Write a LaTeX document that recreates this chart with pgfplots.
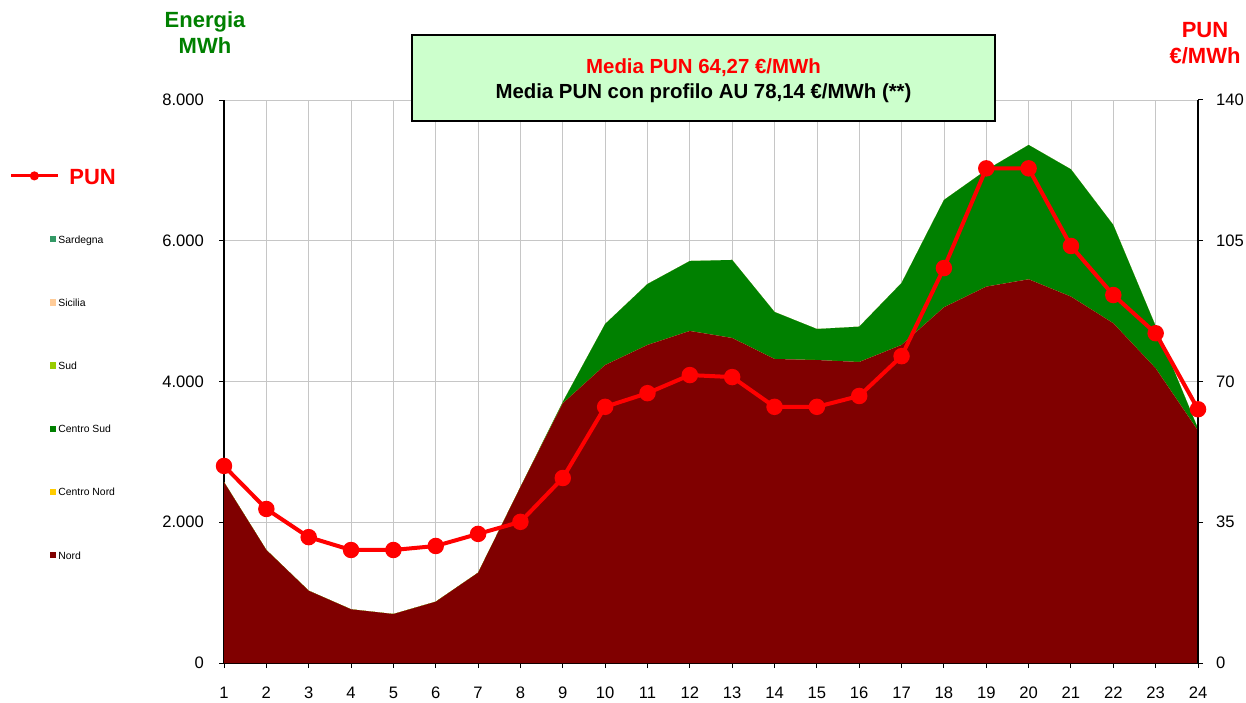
\documentclass[border=0pt]{standalone}
\usepackage{pgfplots}
\usepackage{pgfplotstable}
\pgfplotsset{compat=1.18}
\usepackage{fontspec}
\setmainfont{Liberation Sans}
\definecolor{nord}{RGB}{128,0,0}
\definecolor{cnord}{RGB}{255,204,0}
\definecolor{csud}{RGB}{0,128,0}
\definecolor{sud}{RGB}{153,204,0}
\definecolor{sicilia}{RGB}{255,204,153}
\definecolor{sardegna}{RGB}{51,153,102}
\definecolor{boxgreen}{RGB}{204,255,204}
\definecolor{pun}{RGB}{255,0,0}

\pgfplotstableread{
h nord cnord csud sud sic sar pun
1  2570 0 0    0 0 0 49.0
2  1606 0 0    0 0 0 38.3
3  1027 0 0    0 0 0 31.3
4  763  0 0    0 0 0 28.1
5  696  0 0    0 0 0 28.1
6  871  0 0    0 0 0 29.1
7  1283 0 0    0 0 0 32.1
8  2500 0 0    0 0 0 35.1
9  3690 0 20   0 0 0 46.0
10 4234 0 583  0 0 0 63.7
11 4519 0 866  0 0 0 67.1
12 4718 0 994  0 0 0 71.6
13 4618 0 1109 0 0 0 71.1
14 4320 0 668  0 0 0 63.7
15 4305 0 441  0 0 0 63.7
16 4277 0 502  0 0 0 66.4
17 4519 0 881  0 0 0 76.3
18 5054 0 1525 0 0 0 98.2
19 5348 0 1657 0 0 0 123.0
20 5452 0 1909 0 0 0 123.0
21 5206 0 1809 0 0 0 103.7
22 4827 0 1397 0 0 0 91.5
23 4187 0 600  0 0 0 82.0
24 3300 0 30   0 0 0 63.1
}\data

\pgfplotsset{
  sq/.style={legend image code/.code={%
    \path[draw=none, fill=none] (0pt,-2pt) rectangle (23.5pt,2pt);
    \fill[#1, draw=none] (19.5pt,-1.6pt) rectangle (22.5pt,1.6pt);}},
}

\begin{document}
\begin{tikzpicture}
\useasboundingbox (0,0) rectangle (623pt,351pt);
\begin{axis}[
  at={(112pt,19.5pt)}, anchor=south west,
  scale only axis, width=487pt, height=281.5pt,
  xmin=1, xmax=24, ymin=0, ymax=8000,
  xtick={1,...,24}, ytick={0,2000,...,8000},
  axis x line*=bottom, axis y line*=left,
  axis line style={-, black, line width=0.9pt},
  grid=major, major grid style={gray!45, line width=0.35pt},
  tick align=outside, major tick length=2.5pt,
  tick style={black, line width=0.5pt},
  ticklabel style={font=\fontsize{8.3}{10}\selectfont},
  xticklabel style={yshift=-6pt},
  yticklabel style={xshift=-4pt},
  /pgf/number format/1000 sep={.},
  /pgf/number format/assume math mode=true,
  stack plots=y,
]
\addplot[fill=nord, draw=none] table[x=h, y=nord]{\data} \closedcycle;
\addplot[fill=cnord, draw=none] table[x=h, y=cnord]{\data} \closedcycle;
\addplot[fill=csud, draw=none] table[x=h, y=csud]{\data} \closedcycle;
\addplot[fill=sud, draw=none] table[x=h, y=sud]{\data} \closedcycle;
\addplot[fill=sicilia, draw=none] table[x=h, y=sic]{\data} \closedcycle;
\addplot[fill=sardegna, draw=none] table[x=h, y=sar]{\data} \closedcycle;
\end{axis}
\begin{axis}[
  at={(112pt,19.5pt)}, anchor=south west,
  scale only axis, width=487pt, height=281.5pt,
  xmin=1, xmax=24, ymin=0, ymax=140,
  ytick={0,35,70,105,140},
  axis y line*=right, axis x line=none,
  axis line style={-, black, line width=0.9pt},
  tick align=outside, major tick length=2.5pt,
  tick style={black, line width=0.5pt},
  ticklabel style={font=\fontsize{8.3}{10}\selectfont},
  yticklabel style={xshift=3pt},
  /pgf/number format/assume math mode=true,
  legend style={at={(-0.2187,0.8730)}, anchor=north west, draw=none, fill=none,
    inner sep=0pt, row sep=27.6pt, column sep=0pt,
    nodes={inner sep=0pt, text height=4pt, text depth=0pt}},
  legend cell align=left,
]
\addplot[pun, line width=2pt, mark=*, mark size=3.1pt, mark options={fill=pun, draw=pun},
  legend image code/.code={%
    \path[draw=none, fill=none] (0pt,-2pt) rectangle (23.5pt,2pt);
    \draw[overlay, pun, line width=1.6pt] (0pt,0pt) -- (23.5pt,0pt);
    \fill[overlay, pun, draw=none] (11.5pt,0pt) circle (2.3pt);}]
  table[x=h, y=pun]{\data};
\addlegendentry{\hspace*{5.5pt}\raisebox{-2.5pt}[4pt][0pt]{\fontsize{11}{12}\selectfont\bfseries\color{pun}PUN}}
\addlegendimage{sq=sardegna}
\addlegendentry{\fontsize{5.2}{6}\selectfont Sardegna}
\addlegendimage{sq=sicilia}
\addlegendentry{\fontsize{5.2}{6}\selectfont Sicilia}
\addlegendimage{sq=sud}
\addlegendentry{\fontsize{5.2}{6}\selectfont Sud}
\addlegendimage{sq=csud}
\addlegendentry{\fontsize{5.2}{6}\selectfont Centro Sud}
\addlegendimage{sq=cnord}
\addlegendentry{\fontsize{5.2}{6}\selectfont Centro Nord}
\addlegendimage{sq=nord}
\addlegendentry{\fontsize{5.2}{6}\selectfont Nord}
\end{axis}
\node[align=center, font=\fontsize{11}{13}\selectfont\bfseries, text=csud] at (102.5pt,334.5pt) {Energia\\MWh};
\node[align=center, font=\fontsize{11}{13}\selectfont\bfseries, text=pun] at (602.5pt,329.5pt) {PUN\\€/MWh};
\draw[black, line width=0.9pt, fill=boxgreen] (206pt,290.5pt) rectangle (497.5pt,333.5pt);
\node[align=center, font=\fontsize{10.2}{12.5}\selectfont\bfseries] at (351.75pt,310.5pt) {\textcolor{pun}{Media PUN 64,27 €/MWh}\\Media PUN con profilo AU 78,14 €/MWh (**)};
\end{tikzpicture}
\end{document}
